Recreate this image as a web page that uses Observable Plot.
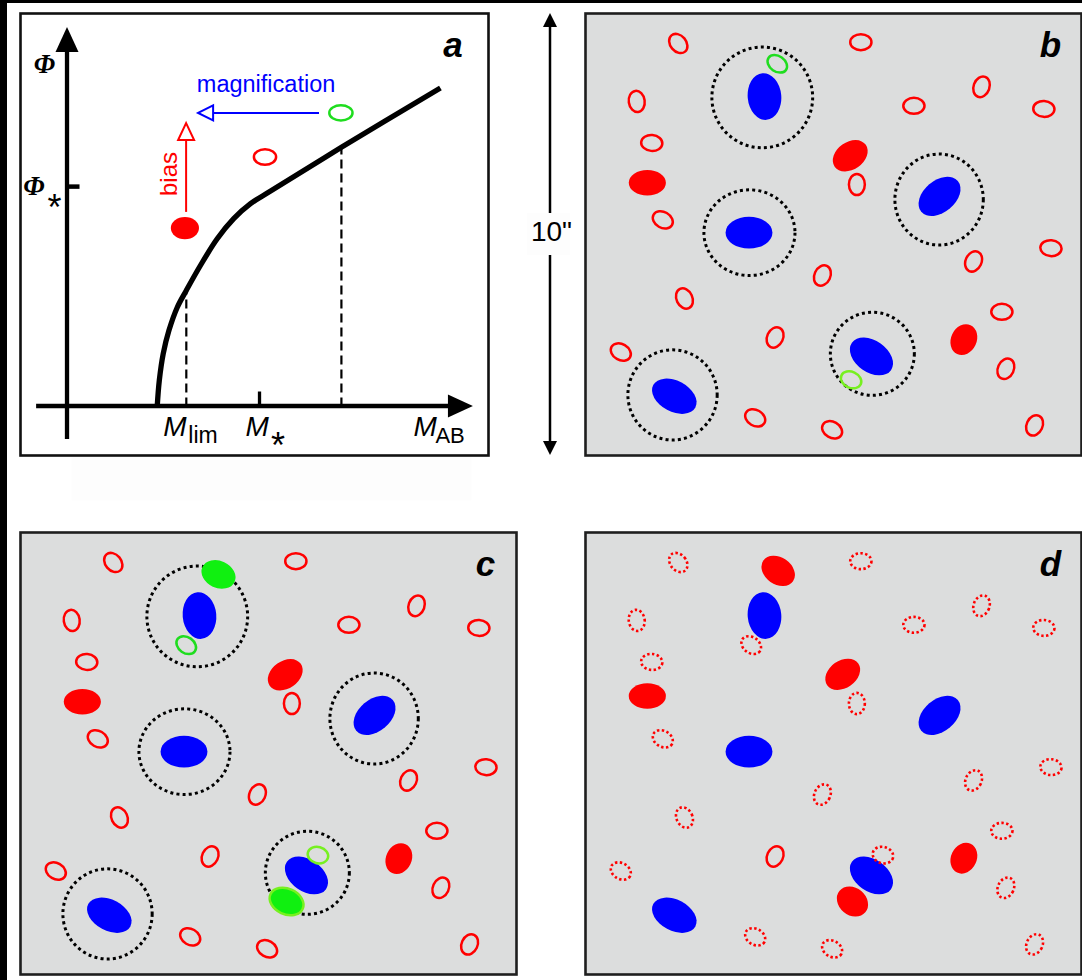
<!DOCTYPE html>
<html>
<head>
<meta charset="utf-8">
<script src="https://cdn.jsdelivr.net/npm/d3@7"></script>
<script src="https://cdn.jsdelivr.net/npm/@observablehq/plot@0.6"></script>
<style>
  html, body { margin: 0; padding: 0; background: #ffffff; }
  #fig { position: relative; width: 1082px; height: 980px; overflow: hidden; background: #ffffff; }
  .abs { position: absolute; }
  .abs svg { display: block; overflow: visible; max-width: none !important; }
  .strip { position: absolute; background: #000; }
</style>
</head>
<body>
<div id="fig"></div>
<script>
// ================= DATA =================
// Panel a: schematic luminosity function Phi(M_AB), arbitrary units
const lfMag = [2.99, 3.06, 3.19, 3.38, 3.66, 3.96, 4.43, 4.99, 5.54, 6.10, 6.77, 9.13, 12.43];
const lfPhi = [0.00, 0.87, 1.76, 2.53, 3.31, 3.87, 4.70, 5.59, 6.26, 6.76, 7.18, 8.64, 10.62];
const mLim = 3.96, mStar = 6.40, mSrc = 9.13;
const phiStar = 7.33, phiAtLim = 3.87, phiAtSrc = 8.64;
const magAxis = [-1.03, 13.53];
const phiAxis = [-1.10, 12.63];
const aMagnifiedSrc = [{x: 9.13, y: 9.77, rx: 0.387, ry: 0.253, rot: 0}];
const aFaintSrc     = [{x: 6.60, y: 8.30, rx: 0.370, ry: 0.260, rot: 0}];
const aBrightSrc    = [{x: 3.93, y: 5.93, rx: 0.470, ry: 0.370, rot: 0}];
const aMagnification = [{x1: 8.40, y1: 9.77, x2: 4.37, y2: 9.77}];
const aBias          = [{x1: 3.97, y1: 6.47, x2: 3.97, y2: 9.43}];
const aTexts = {phi: "Φ", star: "*", M: "M", lim: "lim", AB: "AB", mag: "magnification", bias: "bias"};

// Panels b-d: 10" x 11.2" sky field (arcsec); rot in degrees
const skyW = 11.22, skyH = 10;
const bgSources = [ // faint background galaxies (red open)
  {x: 2.11, y: 9.31, rx: .18, ry: .24, rot: -40},
  {x: 6.24, y: 9.34, rx: .24, ry: .18, rot: 0},
  {x: 1.17, y: 8.00, rx: .18, ry: .24, rot: -8},
  {x: 7.44, y: 7.90, rx: .24, ry: .18, rot: 0},
  {x: 8.97, y: 8.33, rx: .18, ry: .24, rot: 20},
  {x: 10.38, y: 7.83, rx: .24, ry: .18, rot: 3},
  {x: 1.51, y: 7.06, rx: .24, ry: .18, rot: 5},
  {x: 6.15, y: 6.12, rx: .18, ry: .24, rot: 0},
  {x: 1.76, y: 5.32, rx: .24, ry: .18, rot: 30},
  {x: 10.54, y: 4.68, rx: .24, ry: .18, rot: 5},
  {x: 8.79, y: 4.38, rx: .18, ry: .24, rot: 25},
  {x: 5.37, y: 4.06, rx: .18, ry: .24, rot: 25},
  {x: 2.25, y: 3.54, rx: .18, ry: .24, rot: -25},
  {x: 9.43, y: 3.24, rx: .24, ry: .18, rot: 0},
  {x: 4.30, y: 2.66, rx: .18, ry: .24, rot: 25},
  {x: 0.81, y: 2.33, rx: .24, ry: .18, rot: 30},
  {x: 9.52, y: 1.95, rx: .18, ry: .24, rot: 25},
  {x: 3.85, y: 0.84, rx: .24, ry: .18, rot: 30},
  {x: 5.59, y: 0.57, rx: .24, ry: .18, rot: 30},
  {x: 10.17, y: 0.67, rx: .18, ry: .24, rot: 25}
];
const dStillDetected = [14]; // background sources still detected in panel d
const lenses = [ // foreground lens galaxies (blue)
  {x: 4.06, y: 8.11, rx: .38, ry: .53, rot: -5},
  {x: 3.71, y: 5.03, rx: .53, ry: .36, rot: 0},
  {x: 8.02, y: 5.85, rx: .54, ry: .36, rot: -40},
  {x: 6.48, y: 2.23, rx: .54, ry: .36, rot: 35},
  {x: 2.02, y: 1.33, rx: .54, ry: .35, rot: 28}
];
const lensZones = [ // strong-lensing regions (dotted)
  {x: 4.01, y: 8.09, rx: 1.14, ry: 1.14, rot: 0},
  {x: 3.72, y: 5.03, rx: 1.03, ry: 0.97, rot: 0},
  {x: 8.01, y: 5.78, rx: 1.00, ry: 1.03, rot: 0},
  {x: 6.50, y: 2.29, rx: 0.95, ry: 0.94, rot: 0},
  {x: 1.98, y: 1.36, rx: 1.01, ry: 1.02, rot: 0}
];
const brightSources = [ // bright galaxies (red filled)
  {x: 1.41, y: 6.16, rx: .42, ry: .29, rot: 0},
  {x: 6.00, y: 6.77, rx: .43, ry: .31, rot: -35},
  {x: 8.57, y: 2.61, rx: .29, ry: .36, rot: 25}
];
const bLensedFaint = [ // faint sources behind lenses (green open), panel b
  {x: 4.35, y: 8.85, rx: .24, ry: .175, rot: 35, sys: "N"},
  {x: 6.02, y: 1.70, rx: .24, ry: .18, rot: 25, sys: "S"}
];
const cMagnified = [ // magnified images, panel c
  {x: 4.49, y: 9.04, rx: .40, ry: .305, rot: 25, sys: "N"},
  {x: 6.03, y: 1.64, rx: .40, ry: .29, rot: 25, sys: "S"}
];
const cCounterImages = [
  {x: 3.76, y: 7.44, rx: .24, ry: .18, rot: 35, sys: "N"},
  {x: 6.74, y: 2.69, rx: .235, ry: .185, rot: 15, sys: "S"}
];
const dMagnified = [
  {x: 4.37, y: 9.12, rx: .41, ry: .305, rot: 35},
  {x: 6.05, y: 1.64, rx: .38, ry: .31, rot: 40}
];
const dBright = [
  {x: 1.41, y: 6.29, rx: .42, ry: .29, rot: 0},
  {x: 5.83, y: 6.78, rx: .43, ry: .31, rot: -35},
  {x: 8.57, y: 2.62, rx: .29, ry: .36, rot: 25}
];
const panelLabels = ["a", "b", "c", "d"];

// ================= STYLE =================
const RED = "#ff0000", BLUE = "#0000ff";
const GREEN = {N: "#1fdd1f", S: "#77f020"};
const GREEN_FILL = "#10f010";
const GRAY = "#dcdddd";
const PAPER = "#fdfdfd";
const sans = "'Liberation Sans', Arial, Helvetica, sans-serif";
const serif = "'Liberation Serif', 'Times New Roman', serif";

// ================= HELPERS =================
function ellipses(rows, style) {
  return (index, scales) => {
    const {x, y} = scales;
    const g = d3.create("svg:g");
    for (const d of rows) {
      const s = typeof style === "function" ? style(d) : style;
      const cx = x(d.x), cy = y(d.y);
      const rx = Math.abs(x(d.x + d.rx) - cx), ry = Math.abs(y(d.y + d.ry) - cy);
      g.append("ellipse")
        .attr("cx", cx).attr("cy", cy).attr("rx", rx).attr("ry", ry)
        .attr("transform", d.rot ? `rotate(${d.rot},${cx},${cy})` : null)
        .attr("fill", s.fill || "none")
        .attr("stroke", s.stroke || "none")
        .attr("stroke-width", s.strokeWidth || null)
        .attr("stroke-dasharray", s.dash || null);
    }
    return g.node();
  };
}
function arrows(rows, {stroke = "black", strokeWidth = 2, fill = "black", headStroke = 0, len = 14, hw = 7}) {
  return (index, scales) => {
    const {x, y} = scales;
    const g = d3.create("svg:g");
    for (const d of rows) {
      const x1 = x(d.x1), y1 = y(d.y1), x2 = x(d.x2), y2 = y(d.y2);
      const L = Math.hypot(x2 - x1, y2 - y1), ux = (x2 - x1) / L, uy = (y2 - y1) / L;
      const bx = x2 - ux * len, by = y2 - uy * len;
      const over = headStroke ? 0 : len * 0.4;
      g.append("line").attr("x1", x1).attr("y1", y1)
        .attr("x2", bx + ux * over).attr("y2", by + uy * over)
        .attr("stroke", stroke).attr("stroke-width", strokeWidth);
      g.append("path")
        .attr("d", `M${x2},${y2}L${bx - uy * hw},${by + ux * hw}L${bx + uy * hw},${by - ux * hw}Z`)
        .attr("fill", fill)
        .attr("stroke", headStroke ? stroke : "none")
        .attr("stroke-width", headStroke || null)
        .attr("stroke-linejoin", "miter");
    }
    return g.node();
  };
}
// light label box centred on a data point (box size in px = style)
function labelBox(row, {w, h, dx = 0, dy = 0, fill = PAPER}) {
  return (index, {x, y}) => {
    const g = d3.create("svg:g");
    g.append("rect")
      .attr("x", x(row.x) + dx - w / 2).attr("y", y(row.y) + dy - h / 2)
      .attr("width", w).attr("height", h).attr("fill", fill);
    return g.node();
  };
}
const fig = document.getElementById("fig");
function place(node, left, top, w, h) {
  const div = document.createElement("div");
  div.className = "abs";
  Object.assign(div.style, {left: left + "px", top: top + "px", width: w + "px", height: h + "px"});
  div.appendChild(node);
  fig.appendChild(div);
}
function lab(row, txt, opts) {
  return Plot.text([row], {x: "x", y: "y", text: () => txt, fill: "black", ...opts});
}

// opaque light patch below panel a (part of the original artwork)
place(Plot.plot({width: 400, height: 44, margin: 0, style: {background: "transparent"},
  marks: [Plot.frame({fill: PAPER, stroke: "none"})]}), 71, 456, 400, 44);

// ================= PANEL a =================
const aXDomain = [-1.567, 14.033], aYDomain = [-1.633, 13.1];
const lf = lfMag.map((m, i) => ({m, phi: lfPhi[i]}));
const panelA = Plot.plot({
  width: 472, height: 446, margin: 2,
  x: {domain: aXDomain, axis: null},
  y: {domain: aYDomain, axis: null},
  style: {background: "transparent", overflow: "visible"},
  marks: [
    Plot.frame({fill: "white", stroke: "#111", strokeWidth: 2.6}),
    arrows([{x1: 0, y1: phiAxis[0], x2: 0, y2: phiAxis[1]}, {x1: magAxis[0], y1: 0, x2: magAxis[1], y2: 0}],
      {strokeWidth: 4.3, len: 25, hw: 11.5, fill: "black", stroke: "black"}),
    Plot.link([{m: mLim, phi: phiAtLim}, {m: mSrc, phi: phiAtSrc}],
      {x1: "m", x2: "m", y1: () => 0, y2: "phi", stroke: "black", strokeWidth: 2.2, strokeDasharray: "9,5"}),
    Plot.link([{m: mStar}], {x1: "m", x2: "m", y1: () => 0, y2: () => 0.5, stroke: "black", strokeWidth: 3.3}),
    Plot.link([{phi: phiStar}], {x1: () => 0, x2: () => 0.4, y1: "phi", y2: "phi", stroke: "black", strokeWidth: 4.5}),
    Plot.line(lf, {x: "m", y: "phi", curve: "catmull-rom", stroke: "black", strokeWidth: 5.3, strokeLinecap: "butt"}),
    ellipses(aMagnifiedSrc, {stroke: GREEN.N, strokeWidth: 2.5}),
    ellipses(aFaintSrc, {stroke: RED, strokeWidth: 2.5}),
    ellipses(aBrightSrc, {fill: RED}),
    arrows(aMagnification, {stroke: BLUE, strokeWidth: 2, fill: "white", headStroke: 2, len: 15, hw: 7.5}),
    arrows(aBias, {stroke: RED, strokeWidth: 2, fill: "white", headStroke: 2, len: 17, hw: 8}),
    // labels
    lab({x: 0, y: phiAxis[1]}, aTexts.phi, {fontFamily: serif, fontStyle: "italic", fontWeight: "bold", fontSize: 27, textAnchor: "middle", lineAnchor: "bottom", dx: -23, dy: 45}),
    lab({x: 0, y: phiStar}, aTexts.phi, {fontFamily: serif, fontStyle: "italic", fontWeight: "bold", fontSize: 27, textAnchor: "middle", lineAnchor: "bottom", dx: -33.5, dy: 8}),
    lab({x: 0, y: phiStar}, aTexts.star, {fontFamily: sans, fontSize: 36, textAnchor: "middle", lineAnchor: "bottom", dx: -13, dy: 33}),
    lab({x: mLim, y: 0}, aTexts.M, {fontFamily: sans, fontStyle: "italic", fontSize: 28, textAnchor: "start", lineAnchor: "bottom", dx: -23, dy: 29}),
    lab({x: mLim, y: 0}, aTexts.lim, {fontFamily: sans, fontSize: 23, textAnchor: "start", lineAnchor: "bottom", dx: 2, dy: 36}),
    lab({x: mStar, y: 0}, aTexts.M, {fontFamily: sans, fontStyle: "italic", fontSize: 28, textAnchor: "start", lineAnchor: "bottom", dx: -14, dy: 29}),
    lab({x: mStar, y: 0}, aTexts.star, {fontFamily: sans, fontSize: 36, textAnchor: "middle", lineAnchor: "bottom", dx: 18.5, dy: 51}),
    lab({x: magAxis[1], y: 0}, aTexts.M, {fontFamily: sans, fontStyle: "italic", fontSize: 28, textAnchor: "start", lineAnchor: "bottom", dx: -60, dy: 29}),
    lab({x: magAxis[1], y: 0}, aTexts.AB, {fontFamily: sans, fontSize: 22, textAnchor: "start", lineAnchor: "bottom", dx: -38, dy: 36}),
    lab({x: (aMagnification[0].x1 + aMagnification[0].x2) / 2, y: aMagnification[0].y1}, aTexts.mag,
      {fontFamily: sans, fontSize: 23.5, fill: BLUE, textAnchor: "middle", lineAnchor: "bottom", dx: 7, dy: -21}),
    lab({x: aBias[0].x1, y: (aBias[0].y1 + aBias[0].y2) / 2}, aTexts.bias,
      {fontFamily: sans, fontSize: 24, fill: RED, rotate: -90, textAnchor: "middle", lineAnchor: "middle", dx: -17, dy: 6}),
    lab({x: aXDomain[1], y: aYDomain[1]}, panelLabels[0], {fontFamily: sans, fontStyle: "italic", fontWeight: "bold", fontSize: 35, textAnchor: "middle", lineAnchor: "bottom", dx: -35.5, dy: 43})
  ]
});
place(panelA, 18, 11, 472, 446);

// ================= SKY PANELS =================
function skyPanel(label, marks) {
  return Plot.plot({
    width: 500, height: 446, margin: 2,
    x: {domain: [0, skyW], axis: null},
    y: {domain: [0, skyH], axis: null},
    style: {background: "transparent", overflow: "visible"},
    marks: [
      Plot.frame({fill: GRAY, stroke: "#1e1e1e", strokeWidth: 2.6}),
      ...marks,
      lab({x: skyW, y: skyH}, label, {fontFamily: sans, fontStyle: "italic", fontWeight: "bold", fontSize: 35, textAnchor: "middle", lineAnchor: "bottom", dx: -31, dy: 43})
    ]
  });
}
const dotted = {stroke: "#000", strokeWidth: 3, dash: "3,3.2"};
const openRed = {stroke: RED, strokeWidth: 2.5};
const dottedRed = {stroke: RED, strokeWidth: 2.6, dash: "2.4,2.4"};

const panelB = skyPanel(panelLabels[1], [
  ellipses(lensZones, dotted),
  ellipses(lenses, {fill: BLUE}),
  ellipses(brightSources, {fill: RED}),
  ellipses(bgSources, openRed),
  ellipses(bLensedFaint, d => ({stroke: GREEN[d.sys], strokeWidth: 2.5}))
]);
place(panelB, 583, 11, 500, 446);

const panelC = skyPanel(panelLabels[2], [
  ellipses(lensZones, dotted),
  ellipses(lenses, {fill: BLUE}),
  ellipses(brightSources, {fill: RED}),
  ellipses(bgSources, openRed),
  ellipses(cMagnified, d => ({fill: GREEN_FILL, stroke: d.sys === "S" ? GREEN.S : "none", strokeWidth: 2.5})),
  ellipses(cCounterImages, d => ({stroke: GREEN[d.sys], strokeWidth: 2.5}))
]);
place(panelC, 18, 530, 500, 446);

const panelD = skyPanel(panelLabels[3], [
  ellipses(lenses, {fill: BLUE}),
  ellipses(dBright, {fill: RED}),
  ellipses(dMagnified, {fill: RED}),
  ellipses(bgSources.filter((d, i) => !dStillDetected.includes(i)), dottedRed),
  ellipses(bgSources.filter((d, i) => dStillDetected.includes(i)), openRed),
  ellipses(cCounterImages, dottedRed)
]);
place(panelD, 583, 530, 500, 446);

// ================= SCALE BAR =================
const scaleBar = [{x1: 0.5, y1: skyH / 2, x2: 0.5, y2: skyH}, {x1: 0.5, y1: skyH / 2, x2: 0.5, y2: 0}];
const bar = Plot.plot({
  width: 60, height: 470, marginTop: 13, marginBottom: 15, marginLeft: 0, marginRight: 0,
  x: {domain: [0, 1], axis: null},
  y: {domain: [0, skyH], axis: null},
  style: {background: "transparent", overflow: "visible"},
  marks: [
    arrows(scaleBar, {stroke: "black", strokeWidth: 2.5, fill: "black", len: 14, hw: 7}),
    labelBox({x: 0.5, y: skyH / 2}, {w: 43, h: 42, dx: -1.5, dy: 0}),
    lab({x: 0.5, y: skyH / 2}, `${skyH}"`, {fontFamily: sans, fontSize: 28, textAnchor: "middle", lineAnchor: "middle", dx: 1, dy: -2})
  ]
});
place(bar, 520, 0, 60, 470);

// border strips of the original image
for (const [l, t, w, h] of [[0, 0, 7, 980], [0, 0, 1082, 3]]) {
  const s = document.createElement("div");
  s.className = "strip";
  Object.assign(s.style, {left: l + "px", top: t + "px", width: w + "px", height: h + "px"});
  fig.appendChild(s);
}
</script>
</body>
</html>
